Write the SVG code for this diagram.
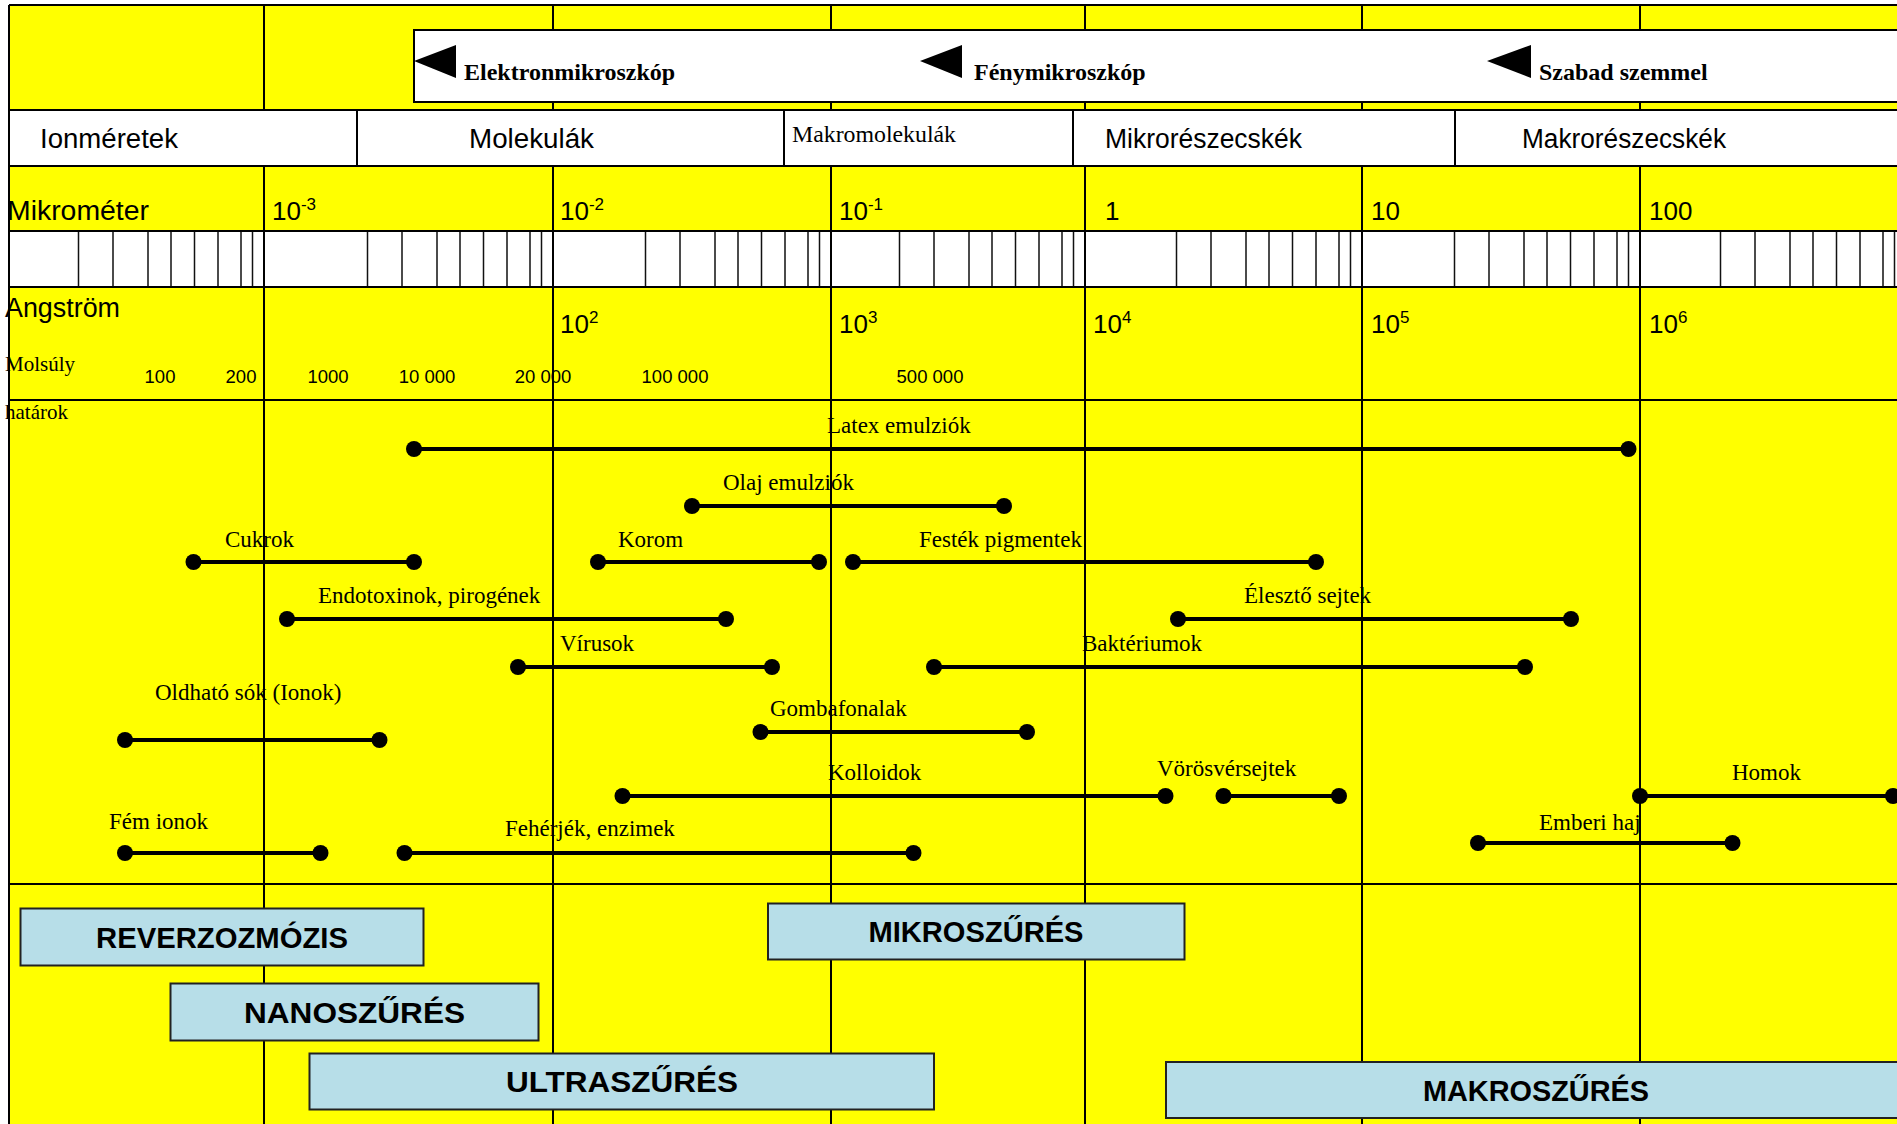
<svg xmlns="http://www.w3.org/2000/svg" width="1897" height="1124" viewBox="0 0 1897 1124">
<style>
.grid{stroke:#000;stroke-width:2;fill:none}
.tick{stroke:#111;stroke-width:1.5;fill:none}
.cell{fill:#fff;stroke:#000;stroke-width:2}
.sans{font-family:"Liberation Sans",Arial,sans-serif;fill:#000}
.serif{font-family:"Liberation Serif","Times New Roman",serif;fill:#000}
.hdr{font-size:27px}
.exp{font-size:26px}
.mw{font-size:18.5px}
.lbl{font-size:23px}
.mic{font-size:24px;font-weight:bold}
.bar{stroke:#000;stroke-width:4}
.dot{fill:#000}
.filt{fill:#B7DEE8;stroke:#222;stroke-width:2}
.ftxt{font-family:"Liberation Sans",Arial,sans-serif;font-size:29px;font-weight:bold;fill:#000;text-anchor:middle}
</style>
<rect x="0" y="0" width="1897" height="1124" fill="#fff"/>
<rect x="9" y="5" width="1900" height="1130" fill="#ff0"/>

<!-- tick band -->
<g id="scale-band">
<rect x="9" y="231" width="1900" height="56" fill="#fff"/>
<path class="tick" d="M78.5 231V287M113 231V287M148 231V287M171 231V287M194.5 231V287M218 231V287M241 231V287M252.5 231V287
M367.5 231V287M402 231V287M437 231V287M460 231V287M483.5 231V287M507 231V287M530 231V287M541.5 231V287
M645.5 231V287M680 231V287M715 231V287M738 231V287M761.5 231V287M785 231V287M808 231V287M819.5 231V287
M899.5 231V287M934 231V287M969 231V287M992 231V287M1015.5 231V287M1039 231V287M1062 231V287M1073.5 231V287
M1176.5 231V287M1211 231V287M1246 231V287M1269 231V287M1292.5 231V287M1316 231V287M1339 231V287M1350.5 231V287
M1454.5 231V287M1489 231V287M1524 231V287M1547 231V287M1570.5 231V287M1594 231V287M1617 231V287M1628.5 231V287
M1720.5 231V287M1755 231V287M1790 231V287M1813 231V287M1836.5 231V287M1860 231V287M1883 231V287M1894.5 231V287"/>
</g>

<!-- main grid -->
<g id="grid">
<path class="grid" d="M9 5V1124M264 5V1124M553 5V1124M831 5V1124M1085 5V1124M1362 5V1124M1640 5V1124"/>
<path class="grid" d="M9 5H1897M9 166H1897M9 231H1897M9 287H1897M9 400H1897M9 884H1897"/>
</g>

<!-- microscope band -->
<g id="microscopes">
<rect class="cell" x="414" y="30" width="1500" height="72"/>
<g id="elektronmikroszkop">
<polygon points="414,61 456,45 456,78" fill="#000"/>
<text class="serif mic" x="464" y="80">Elektronmikroszkóp</text>
</g>
<g id="fenymikroszkop">
<polygon points="920,61 962,45 962,78" fill="#000"/>
<text class="serif mic" x="974" y="80">Fénymikroszkóp</text>
</g>
<g id="szabad-szemmel">
<polygon points="1487,61 1531,45 1531,78" fill="#000"/>
<text class="serif mic" x="1539" y="80">Szabad szemmel</text>
</g>
</g>

<!-- category row -->
<g id="categories">
<g id="ionmeretek"><rect class="cell" x="9" y="110" width="348" height="56"/><text class="sans hdr" x="40" y="148" textLength="138" lengthAdjust="spacingAndGlyphs">Ionméretek</text></g>
<g id="molekulak"><rect class="cell" x="357" y="110" width="427" height="56"/><text class="sans hdr" x="469" y="148" textLength="125" lengthAdjust="spacingAndGlyphs">Molekulák</text></g>
<g id="makromolekulak"><rect class="cell" x="784" y="110" width="289" height="56"/><text class="serif" font-size="23.5" x="792" y="142" textLength="164" lengthAdjust="spacingAndGlyphs">Makromolekulák</text></g>
<g id="mikroreszecskek"><rect class="cell" x="1073" y="110" width="382" height="56"/><text class="sans hdr" x="1105" y="148" textLength="197" lengthAdjust="spacingAndGlyphs">Mikrorészecskék</text></g>
<g id="makroreszecskek"><rect class="cell" x="1455" y="110" width="460" height="56"/><text class="sans hdr" x="1522" y="148" textLength="204" lengthAdjust="spacingAndGlyphs">Makrorészecskék</text></g>
</g>

<!-- scale labels -->
<g id="mikrometer-scale">
<text class="sans" font-size="27" x="7" y="220" textLength="142" lengthAdjust="spacingAndGlyphs">Mikrométer</text>
<text class="sans exp" x="272" y="220">10<tspan font-size="17" dy="-10">-3</tspan></text>
<text class="sans exp" x="560" y="220">10<tspan font-size="17" dy="-10">-2</tspan></text>
<text class="sans exp" x="839" y="220">10<tspan font-size="17" dy="-10">-1</tspan></text>
<text class="sans exp" x="1105" y="220">1</text>
<text class="sans exp" x="1371" y="220">10</text>
<text class="sans exp" x="1649" y="220">100</text>
</g>
<g id="angstrom-scale">
<text class="sans" font-size="27" x="5" y="317" textLength="115" lengthAdjust="spacingAndGlyphs">Angström</text>
<text class="sans exp" x="560" y="333">10<tspan font-size="17" dy="-10">2</tspan></text>
<text class="sans exp" x="839" y="333">10<tspan font-size="17" dy="-10">3</tspan></text>
<text class="sans exp" x="1093" y="333">10<tspan font-size="17" dy="-10">4</tspan></text>
<text class="sans exp" x="1371" y="333">10<tspan font-size="17" dy="-10">5</tspan></text>
<text class="sans exp" x="1649" y="333">10<tspan font-size="17" dy="-10">6</tspan></text>
</g>
<g id="molsuly-scale">
<text class="serif" font-size="21" x="5" y="371">Molsúly</text>
<g class="sans mw" text-anchor="middle">
<text x="160" y="383">100</text>
<text x="241" y="383">200</text>
<text x="328" y="383">1000</text>
<text x="427" y="383">10 000</text>
<text x="543" y="383">20 000</text>
<text x="675" y="383">100 000</text>
<text x="930" y="383">500 000</text>
</g>
<text class="serif" font-size="21" x="5" y="419">határok</text>
</g>

<!-- size ranges -->
<g id="connectors">
<g id="latex"><line class="bar" x1="414" y1="449" x2="1628.5" y2="449"/><circle class="dot" cx="414" cy="449" r="8"/><circle class="dot" cx="1628.5" cy="449" r="8"/><text class="serif lbl" x="827" y="433">Latex emulziók</text></g>
<g id="olaj"><line class="bar" x1="692" y1="506" x2="1004" y2="506"/><circle class="dot" cx="692" cy="506" r="8"/><circle class="dot" cx="1004" cy="506" r="8"/><text class="serif lbl" x="723" y="490">Olaj emulziók</text></g>
<g id="cukrok"><line class="bar" x1="193.5" y1="562" x2="414" y2="562"/><circle class="dot" cx="193.5" cy="562" r="8"/><circle class="dot" cx="414" cy="562" r="8"/><text class="serif lbl" x="225" y="547">Cukrok</text></g>
<g id="korom"><line class="bar" x1="598" y1="562" x2="819" y2="562"/><circle class="dot" cx="598" cy="562" r="8"/><circle class="dot" cx="819" cy="562" r="8"/><text class="serif lbl" x="618" y="547">Korom</text></g>
<g id="festek"><line class="bar" x1="853" y1="562" x2="1316" y2="562"/><circle class="dot" cx="853" cy="562" r="8"/><circle class="dot" cx="1316" cy="562" r="8"/><text class="serif lbl" x="919" y="547">Festék pigmentek</text></g>
<g id="endotoxinok"><line class="bar" x1="287" y1="619" x2="726" y2="619"/><circle class="dot" cx="287" cy="619" r="8"/><circle class="dot" cx="726" cy="619" r="8"/><text class="serif lbl" x="318" y="603">Endotoxinok, pirogének</text></g>
<g id="eleszto"><line class="bar" x1="1178" y1="619" x2="1571" y2="619"/><circle class="dot" cx="1178" cy="619" r="8"/><circle class="dot" cx="1571" cy="619" r="8"/><text class="serif lbl" x="1244" y="603">Élesztő sejtek</text></g>
<g id="virusok"><line class="bar" x1="518" y1="667" x2="772" y2="667"/><circle class="dot" cx="518" cy="667" r="8"/><circle class="dot" cx="772" cy="667" r="8"/><text class="serif lbl" x="560" y="651">Vírusok</text></g>
<g id="bakteriumok"><line class="bar" x1="934" y1="667" x2="1525" y2="667"/><circle class="dot" cx="934" cy="667" r="8"/><circle class="dot" cx="1525" cy="667" r="8"/><text class="serif lbl" x="1082" y="651">Baktériumok</text></g>
<g id="oldhato"><line class="bar" x1="125" y1="740" x2="379.5" y2="740"/><circle class="dot" cx="125" cy="740" r="8"/><circle class="dot" cx="379.5" cy="740" r="8"/><text class="serif lbl" x="155" y="700">Oldható sók (Ionok)</text></g>
<g id="gombafonalak"><line class="bar" x1="760.5" y1="732" x2="1027" y2="732"/><circle class="dot" cx="760.5" cy="732" r="8"/><circle class="dot" cx="1027" cy="732" r="8"/><text class="serif lbl" x="770" y="716">Gombafonalak</text></g>
<g id="kolloidok"><line class="bar" x1="622.5" y1="796" x2="1165.5" y2="796"/><circle class="dot" cx="622.5" cy="796" r="8"/><circle class="dot" cx="1165.5" cy="796" r="8"/><text class="serif lbl" x="828" y="780">Kolloidok</text></g>
<g id="vorosver"><line class="bar" x1="1223.5" y1="796" x2="1339" y2="796"/><circle class="dot" cx="1223.5" cy="796" r="8"/><circle class="dot" cx="1339" cy="796" r="8"/><text class="serif lbl" x="1157" y="776">Vörösvérsejtek</text></g>
<g id="homok"><line class="bar" x1="1640" y1="796" x2="1893" y2="796"/><circle class="dot" cx="1640" cy="796" r="8"/><circle class="dot" cx="1893" cy="796" r="8"/><text class="serif lbl" x="1732" y="780">Homok</text></g>
<g id="emberi-haj"><line class="bar" x1="1478" y1="843" x2="1732.5" y2="843"/><circle class="dot" cx="1478" cy="843" r="8"/><circle class="dot" cx="1732.5" cy="843" r="8"/><text class="serif lbl" x="1539" y="830">Emberi haj</text></g>
<g id="fem-ionok"><line class="bar" x1="125" y1="853" x2="320.5" y2="853"/><circle class="dot" cx="125" cy="853" r="8"/><circle class="dot" cx="320.5" cy="853" r="8"/><text class="serif lbl" x="109" y="829">Fém ionok</text></g>
<g id="feherjek"><line class="bar" x1="404.5" y1="853" x2="913.5" y2="853"/><circle class="dot" cx="404.5" cy="853" r="8"/><circle class="dot" cx="913.5" cy="853" r="8"/><text class="serif lbl" x="505" y="836">Fehérjék, enzimek</text></g>
</g>

<!-- filtration processes -->
<g id="reverzozmozis"><rect class="filt" x="20.5" y="908.5" width="403" height="57"/><text class="ftxt" x="222" y="947.5" textLength="252" lengthAdjust="spacingAndGlyphs">REVERZOZMÓZIS</text></g>
<g id="nanoszures"><rect class="filt" x="170.5" y="983.5" width="368" height="57"/><text class="ftxt" x="354.5" y="1022.5" textLength="221" lengthAdjust="spacingAndGlyphs">NANOSZŰRÉS</text></g>
<g id="ultraszures"><rect class="filt" x="309.5" y="1053.5" width="624.5" height="56"/><text class="ftxt" x="622" y="1092" textLength="232" lengthAdjust="spacingAndGlyphs">ULTRASZŰRÉS</text></g>
<g id="mikroszures"><rect class="filt" x="768" y="903.5" width="416.5" height="56"/><text class="ftxt" x="976" y="942" textLength="215" lengthAdjust="spacingAndGlyphs">MIKROSZŰRÉS</text></g>
<g id="makroszures"><rect class="filt" x="1166" y="1062" width="740" height="56"/><text class="ftxt" x="1536" y="1100.5" textLength="226" lengthAdjust="spacingAndGlyphs">MAKROSZŰRÉS</text></g>
</svg>
